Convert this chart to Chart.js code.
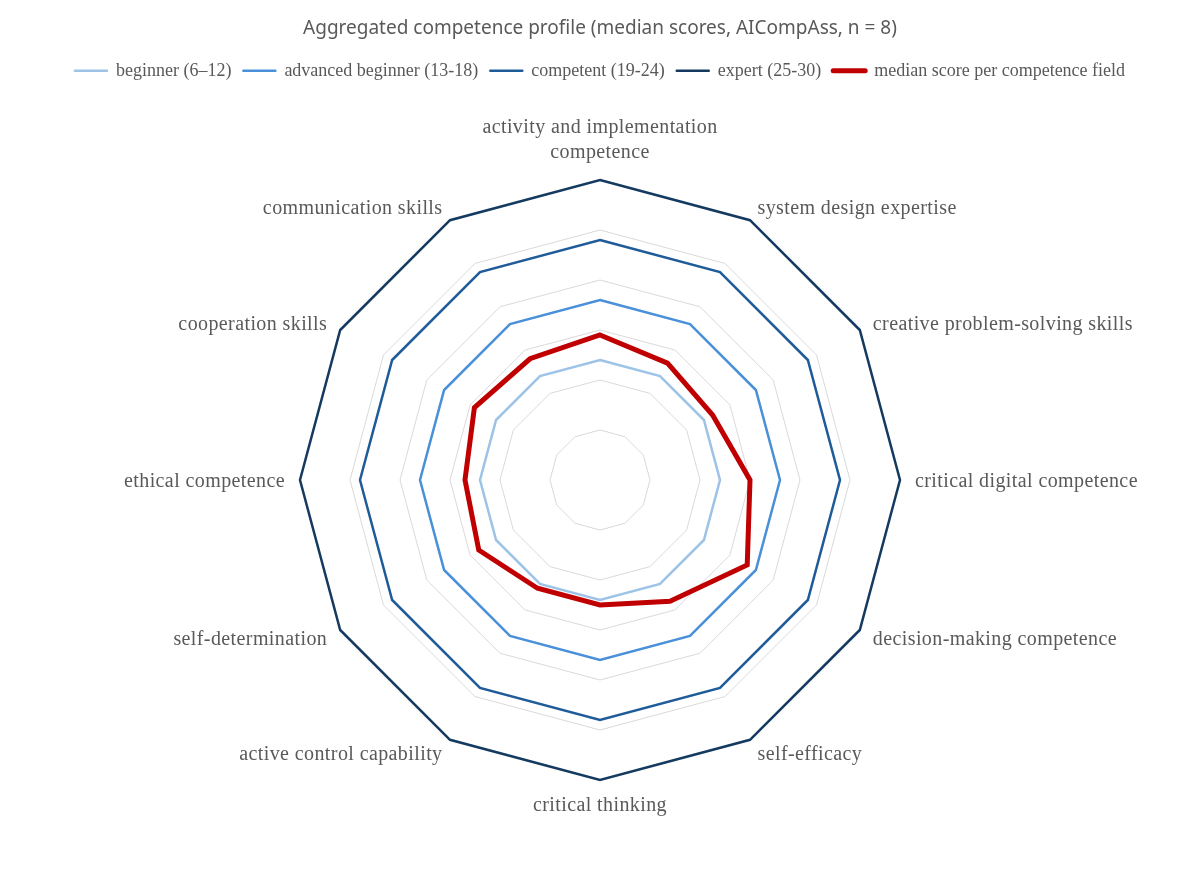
<!DOCTYPE html>
<html>
<head>
<meta charset="utf-8">
<script src="https://cdn.jsdelivr.net/npm/chart.js@4.4.1/dist/chart.umd.min.js"></script>
<style>
  html, body { margin: 0; background: #fff; }
  #wrap { width: 1200px; height: 874px; }
</style>
</head>
<body>
<div id="wrap"><canvas id="chart"></canvas></div>
<script>
const fields = [
  ['activity and implementation', 'competence'],
  'system design expertise',
  'creative problem-solving skills',
  'critical digital competence',
  'decision-making competence',
  'self-efficacy',
  'critical thinking',
  'active control capability',
  'self-determination',
  'ethical competence',
  'cooperation skills',
  'communication skills',
];

// upper bound of each level band, same for every field
const beginnerLevel = [12, 12, 12, 12, 12, 12, 12, 12, 12, 12, 12, 12];
const advancedLevel = [18, 18, 18, 18, 18, 18, 18, 18, 18, 18, 18, 18];
const competentLevel = [24, 24, 24, 24, 24, 24, 24, 24, 24, 24, 24, 24];
const expertLevel = [30, 30, 30, 30, 30, 30, 30, 30, 30, 30, 30, 30];

const medianScores = [14.5, 13.5, 13, 15, 17, 14, 12.5, 12.5, 14, 13.5, 14.5, 14];

const scaleMin = 0;
const scaleMax = 30;
const ringStep = 5;

const GREY = '#595959';
const CENTER = { x: 600, y: 480, r: 300 };
const LABEL_GAP = 15;

// draws the field names Excel-style: side labels centred on the spoke
const fieldLabels = {
  id: 'fieldLabels',
  afterDraw(chart) {
    const scale = chart.scales.r;
    const ctx = chart.ctx;
    const lh = 25;
    ctx.save();
    ctx.font = '20px "Liberation Serif"';
    ctx.letterSpacing = '0.4px';
    ctx.fillStyle = GREY;
    ctx.textBaseline = 'middle';
    fields.forEach((label, i) => {
      const p = scale.getPointPosition(i, scale.drawingArea + LABEL_GAP);
      const deg = Math.round(((p.angle + Math.PI / 2) * 180 / Math.PI + 360) % 360);
      const lines = [].concat(label);
      const h = lines.length * lh;
      let align = 'center';
      let top = p.y - h / 2 + 2;
      if (deg > 0 && deg < 180) align = 'left';
      else if (deg > 180) align = 'right';
      else if (deg === 0) top = p.y - h;
      else top = p.y - 2;
      ctx.textAlign = align;
      lines.forEach((t, j) => ctx.fillText(t, p.x, top + lh * j + lh / 2));
    });
    ctx.restore();
  },
};

const line = (label, data, color, width, order) => ({
  label, data, order,
  borderColor: color,
  backgroundColor: color,
  borderWidth: width,
  fill: false,
  pointRadius: 0,
  pointHoverRadius: 0,
  tension: 0,
  clip: false,
});

new Chart(document.getElementById('chart'), {
  type: 'radar',
  data: {
    labels: fields,
    datasets: [
      line('beginner (6\u201312)', beginnerLevel, '#9DC3E6', 2.5, 1),
      line('advanced beginner (13-18)', advancedLevel, '#4A90D9', 2.5, 1),
      line('competent (19-24)', competentLevel, '#1F5B99', 2.5, 1),
      line('expert (25-30)', expertLevel, '#153A60', 2.5, 1),
      line('median score per competence field', medianScores, '#C00000', 5, 0),
    ],
  },
  options: {
    responsive: true,
    maintainAspectRatio: false,
    animation: false,
    layout: { padding: { top: 4, left: 10, right: 10, bottom: 10 } },
    plugins: {
      title: {
        display: true,
        text: 'Aggregated competence profile (median scores, AICompAss, n = 8)',
        color: GREY,
        font: { family: 'Noto Sans', size: 19, weight: 'normal' },
        padding: { top: 13, bottom: 10 },
      },
      legend: {
        position: 'top',
        labels: {
          usePointStyle: true,
          pointStyleWidth: 32,
          color: GREY,
          font: { family: 'Liberation Serif', size: 18 },
          padding: 12,
          generateLabels: (chart) =>
            chart.data.datasets.map((ds, i) => ({
              text: ds.label,
              fillStyle: ds.borderColor,
              strokeStyle: ds.borderColor,
              lineWidth: ds.borderWidth,
              lineCap: 'round',
              pointStyle: 'line',
              fontColor: GREY,
              hidden: false,
              datasetIndex: i,
            })),
        },
      },
      tooltip: { enabled: false },
    },
    scales: {
      r: {
        min: scaleMin,
        max: scaleMax,
        ticks: { display: false, stepSize: ringStep },
        grid: { color: '#D9D9D9', lineWidth: 1 },
        angleLines: { display: false },
        pointLabels: { display: false },
        afterFit(scale) {
          scale.xCenter = CENTER.x;
          scale.yCenter = CENTER.y;
          scale.drawingArea = CENTER.r;
        },
      },
    },
  },
  plugins: [fieldLabels],
});
</script>
</body>
</html>
